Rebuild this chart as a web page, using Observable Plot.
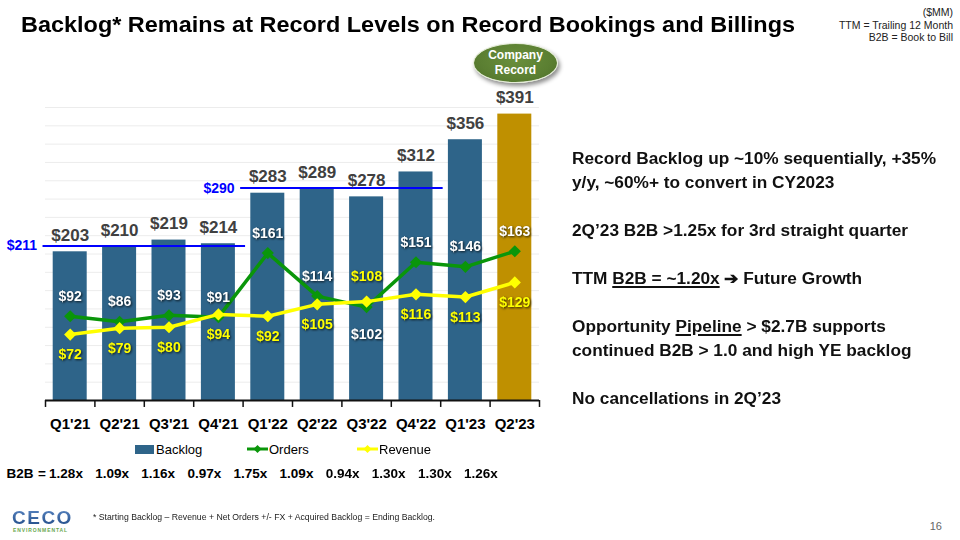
<!DOCTYPE html>
<html>
<head>
<meta charset="utf-8">
<script src="https://cdn.jsdelivr.net/npm/d3@7"></script>
<script src="https://cdn.jsdelivr.net/npm/@observablehq/plot@0.6"></script>
<style>
  html, body { margin: 0; padding: 0; background: #fff; }
  #page { position: relative; width: 960px; height: 540px; overflow: hidden; background: #fff;
          font-family: "Liberation Sans", Arial, sans-serif; color: #000; }
  .abs { position: absolute; white-space: nowrap; }
  #title { left: 21px; top: 12px; font-size: 22px; font-weight: bold; transform-origin: left top; }
  #note { right: 7px; top: 6px; font-size: 10.5px; line-height: 12.5px; text-align: right; color: #222; }
  #chart { left: 0; top: 0; }
  #record { left: 473px; top: 43px; width: 85px; height: 40px; box-sizing: border-box; border-radius: 50%;
            background: radial-gradient(ellipse at 50% 40%, #6a8f3c 0%, #5b7f32 60%, #4c6d27 100%);
            border: 1.5px solid #e3ebd6; box-shadow: 2px 3px 4px rgba(0,0,0,0.45);
            color: #fff; font-weight: bold; font-size: 12px; line-height: 15.5px; text-align: center;
            display: flex; align-items: center; justify-content: center; }
  #legend { left: 0; top: 440px; font-size: 13px; height: 18px; width: 545px; }
  #legend .item { position: absolute; top: 0; display: flex; align-items: center; height: 18px; }
  #b2b { left: 0; top: 466px; font-size: 13.5px; font-weight: bold; width: 545px; height: 20px; }
  #b2b span { position: absolute; top: 0; transform: translateX(-50%); }
  #bullets { left: 572px; top: 147px; font-size: 16px; line-height: 24px; font-weight: bold; color: #111;
             transform-origin: left top; }
  #bullets u { text-decoration-thickness: 1.5px; text-underline-offset: 2px; }
  #logo { left: 12px; top: 508px; }
  #logo .ceco { font-size: 19px; font-weight: 900; color: #2f5b9a; letter-spacing: 1.5px; line-height: 19px;
                background: linear-gradient(#5a86c2, #1f4a86); -webkit-background-clip: text; background-clip: text;
                -webkit-text-fill-color: transparent; }
  #logo .env { font-size: 5px; font-weight: bold; color: #6aa84f; letter-spacing: 0.9px; line-height: 7px; margin-left: 1px; }
  #foot { left: 93px; top: 512px; font-size: 8.5px; color: #222; transform-origin: left top; }
  #pagenum { right: 18px; top: 520px; font-size: 11px; color: #666; }
</style>
</head>
<body>
<div id="page">
  <div id="title" class="abs">Backlog* Remains at Record Levels on Record Bookings and Billings</div>
  <div id="note" class="abs">($MM)<br>TTM = Trailing 12 Month<br>B2B = Book to Bill</div>
  <div id="chart" class="abs"></div>
  <div id="record" class="abs"><div>Company<br>Record</div></div>
  <div id="legend" class="abs"></div>
  <div id="b2b" class="abs"></div>
  <div id="bullets" class="abs">Record Backlog up ~10% sequentially, +35%<br>y/y, ~60%+ to convert in CY2023<br><br>2Q’23 B2B &gt;1.25x for 3rd straight quarter<br><br>TTM <u>B2B = ~1.20x</u> ➔ Future Growth<br><br>Opportunity <u>Pipeline</u> &gt; $2.7B supports<br>continued B2B &gt; 1.0 and high YE backlog<br><br>No cancellations in 2Q’23</div>
  <div id="logo" class="abs"><div class="ceco">CECO</div><div class="env">ENVIRONMENTAL</div></div>
  <div id="foot" class="abs">* Starting Backlog – Revenue + Net Orders +/- FX + Acquired Backlog = Ending Backlog.</div>
  <div id="pagenum" class="abs">16</div>
</div>
<script>
// ---------------- data ----------------
const quarters = ["Q1'21", "Q2'21", "Q3'21", "Q4'21", "Q1'22", "Q2'22", "Q3'22", "Q4'22", "Q1'23", "Q2'23"];
const backlog  = [203, 210, 219, 214, 283, 289, 278, 312, 356, 391];
const orders   = [92, 86, 93, 91, 161, 114, 102, 151, 146, 163];
const revenue  = [72, 79, 80, 94, 92, 105, 108, 116, 113, 129];
const b2bRatio = ["1.28x", "1.09x", "1.16x", "0.97x", "1.75x", "1.09x", "0.94x", "1.30x", "1.30x", "1.26x"];
const ttmBacklog = [211, 290];          // TTM average backlog reference values
const ttmSpanStart = [0, 4];            // quarter index where each TTM span starts
const ttmSpanEnd = [4, 8];              // quarter index where each TTM span ends
const recordQuarter = "Q2'23";
const ordersBelowQuarters = ["Q3'22"];  // quarters where the Orders label sits under its point
const primaryMax = 400;                 // left (backlog) axis maximum
const secondaryMax = 320;               // right (orders / revenue) axis maximum
const gridStep = 25;

// ---------------- table ----------------
const k = primaryMax / secondaryMax;
const rows = quarters.map((q, i) => ({i, q, backlog: backlog[i], orders: orders[i], revenue: revenue[i]}));
const ttm = ttmBacklog.map((v, j) => ({value: v, label: "$" + v, start: ttmSpanStart[j], end: ttmSpanEnd[j]}));
const cx = d => d.i + 0.5;
const FONT = "'Liberation Sans', Arial, sans-serif";

const chart = Plot.plot({
  width: 545, height: 440,
  marginLeft: 45, marginRight: 6, marginTop: 107, marginBottom: 40,
  x: {type: "linear", domain: [0, quarters.length], axis: null},
  y: {domain: [0, primaryMax], axis: null},
  style: {fontFamily: FONT, overflow: "visible", background: "transparent"},
  marks: [
    Plot.ruleY(d3.range(gridStep, primaryMax + 1, gridStep), {stroke: "#ececec", strokeWidth: 1}),
    Plot.rectY(rows, {x1: "i", x2: d => d.i + 1, y: "backlog",
      fill: d => d.q === recordQuarter ? "#BF9000" : "#2E6489", insetLeft: 7.7, insetRight: 7.7}),
    Plot.ruleY([0], {stroke: "#111", strokeWidth: 1.8}),
    Plot.ruleX(d3.range(quarters.length + 1), {y1: 0, y2: -9.5, stroke: "#111", strokeWidth: 1.5}),
    Plot.text(rows, {x: cx, y: 0, text: "q", dy: 24, fontSize: 15, fontWeight: "bold", fill: "#000"}),
    // TTM reference lines
    Plot.ruleY(ttm, {y: "value", x1: d => d.start - 0.05, x2: d => d.end + 0.05, stroke: "#0000FF", strokeWidth: 2}),
    Plot.text(ttm, {x: d => d.start - 0.05, y: "value", text: "label", textAnchor: "end", dx: -6,
      fill: "#0000FF", fontSize: 14, fontWeight: "bold"}),
    // Orders & revenue (secondary axis)
    Plot.line(rows, {x: cx, y: d => d.orders * k, stroke: "#0A960A", strokeWidth: 3.5}),
    Plot.dot(rows, {x: cx, y: d => d.orders * k, symbol: "diamond2", r: 5.5, fill: "#0A960A"}),
    Plot.line(rows, {x: cx, y: d => d.revenue * k, stroke: "#FFFF00", strokeWidth: 3.5}),
    Plot.dot(rows, {x: cx, y: d => d.revenue * k, symbol: "diamond2", r: 5.5, fill: "#FFFF00"}),
    // backlog totals
    Plot.text(rows, {x: cx, y: "backlog", text: d => "$" + d.backlog, lineAnchor: "bottom", dy: -11,
      fontSize: 17, fontWeight: "bold", fill: "#404040"}),
    // orders labels
    Plot.text(rows.filter(d => !ordersBelowQuarters.includes(d.q)), {x: cx, y: d => d.orders * k,
      text: d => "$" + d.orders, dy: -20, fontSize: 14, fontWeight: "bold", fill: "white"}),
    Plot.text(rows.filter(d => ordersBelowQuarters.includes(d.q)), {x: cx, y: d => d.orders * k,
      text: d => "$" + d.orders, dy: 27, fontSize: 14, fontWeight: "bold", fill: "white"}),
    // revenue labels
    Plot.text(rows.filter(d => !ordersBelowQuarters.includes(d.q)), {x: cx, y: d => d.revenue * k,
      text: d => "$" + d.revenue, dy: 20, fontSize: 14, fontWeight: "bold", fill: "#FFFF00"}),
    Plot.text(rows.filter(d => ordersBelowQuarters.includes(d.q)), {x: cx, y: d => d.revenue * k,
      text: d => "$" + d.revenue, dy: -25, fontSize: 14, fontWeight: "bold", fill: "#FFFF00"})
  ]
});
document.getElementById("chart").appendChild(chart);
d3.select(chart).selectAll('g[aria-label="text"]').each(function () {
  const f = this.getAttribute("fill");
  if (f === "white" || f === "#FFFF00") this.style.filter = "drop-shadow(1px 1px 1px rgba(0,0,0,0.75))";
});

// ---------------- legend ----------------
const legend = d3.select("#legend");
const legendItems = [
  {label: "Backlog", kind: "bar", color: "#2E6489", left: 134},
  {label: "Orders", kind: "line", color: "#0A960A", left: 247},
  {label: "Revenue", kind: "line", color: "#FFFF00", left: 357}
];
legendItems.forEach(it => {
  const item = legend.append("div").attr("class", "item").style("left", it.left + "px");
  const s = item.append("svg").attr("width", 21).attr("height", 12);
  if (it.kind === "bar") s.append("rect").attr("x", 1).attr("y", 2).attr("width", 19).attr("height", 9).attr("fill", it.color);
  else {
    s.append("line").attr("x1", 0).attr("x2", 21).attr("y1", 6).attr("y2", 6).attr("stroke", it.color).attr("stroke-width", 3);
    s.append("path").attr("d", d3.symbol(d3.symbolDiamond2, 40)()).attr("transform", "translate(10.5,6)").attr("fill", it.color);
  }
  item.append("span").text(it.label).style("margin-left", "1px");
});

// ---------------- B2B row ----------------
const b2b = d3.select("#b2b");
b2b.append("span").text("B2B").style("left", "20px");
b2b.append("span").text("=").style("left", "42px");
b2bRatio.forEach((r, i) => b2b.append("span").text(r).style("left", (66 + 46.1 * i) + "px"));

// ---------------- text fitting ----------------
function fit(id, w) {
  const el = document.getElementById(id);
  const r = el.getBoundingClientRect().width;
  el.style.transform = `scaleX(${w / r})`;
}
fit("title", 774);
(function () {
  const el = document.getElementById("bullets");
  const probe = document.createElement("span");
  probe.style.cssText = "position:absolute;visibility:hidden;white-space:nowrap;font:bold 16px 'Liberation Sans', Arial, sans-serif";
  probe.textContent = "Record Backlog up ~10% sequentially, +35%";
  document.body.appendChild(probe);
  const w = probe.getBoundingClientRect().width;
  probe.remove();
  el.style.transform = `scaleX(${364 / w})`;
})();
fit("foot", 342);
</script>
</body>
</html>
